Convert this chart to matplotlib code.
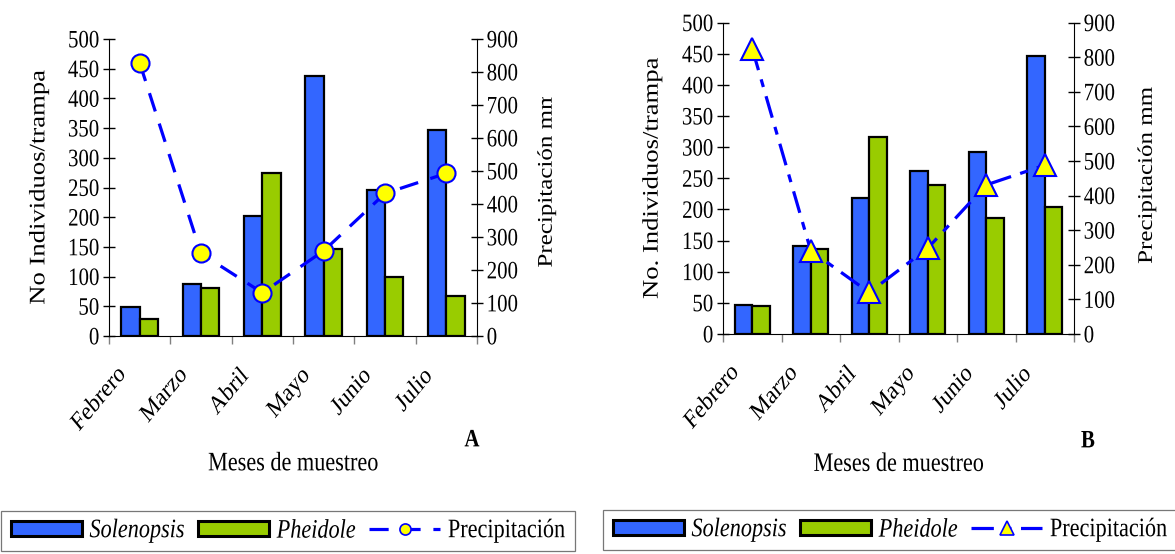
import matplotlib.pyplot as plt
import numpy as np
from matplotlib.transforms import Bbox, TransformedBbox, Affine2D
from matplotlib.patches import Patch
from matplotlib.lines import Line2D
from matplotlib.text import Text
from matplotlib import patheffects

plt.rcParams['font.family'] = ['Liberation Serif', 'DejaVu Serif']

# Data
months = ["Febrero", "Marzo", "Abril", "Mayo", "Junio", "Julio"]

solenopsis_a = [48, 88, 202, 437, 245, 346]
pheidole_a = [28, 81, 274, 146, 100, 67]
precip_a = [828, 250, 131, 258, 432, 493]

solenopsis_b = [47, 141, 219, 262, 293, 446]
pheidole_b = [45, 136, 316, 239, 187, 204]
precip_b = [825, 241, 120, 248, 431, 488]

BLUE = "#3366FF"
GREEN = "#99CC00"
LINE = "#0000FF"
YELLOW = "#FFFF00"

W, H = 1175, 554
fig = plt.figure(figsize=(W / 100, H / 100), dpi=100)


class Stretch(patheffects.AbstractPathEffect):
    # the original picture is squashed sideways, so text looks tall and narrow
    def __init__(self, sy):
        super().__init__()
        self.sy = sy

    def draw_path(self, renderer, gc, tpath, affine, rgbFace=None):
        ext = tpath.get_extents(affine)
        cx, cy = (ext.x0 + ext.x1) / 2, (ext.y0 + ext.y1) / 2
        st = Affine2D().translate(-cx, -cy).scale(1, self.sy).translate(cx, cy)
        renderer.draw_path(gc, tpath, affine + st, rgbFace)


def panel(rect, sol, phe, prec, marker, ms, dashes, left_label, left_lx, right_lxy, xlab_y, letter, letter_xy):
    ax = fig.add_axes(rect)
    x = np.arange(len(months)) + 0.5
    bw = 0.3
    ax.bar(x - bw / 2, sol, bw, color=BLUE, edgecolor="black", linewidth=1.6, zorder=2)
    ax.bar(x + bw / 2, phe, bw, color=GREEN, edgecolor="black", linewidth=1.6, zorder=2)
    ax.set_xlim(0, len(months))
    ax.set_ylim(0, 500)
    ax.set_yticks(np.arange(0, 501, 50))
    ax.set_xticks(np.arange(0, len(months) + 1))
    ax.set_xticklabels([])
    ax.set_xticks(x - 0.16, months, minor=True)
    ax.tick_params(axis="x", which="major", direction="out", length=5.5, width=1, color="#808080")
    ax.tick_params(axis="x", which="minor", length=0, pad=24, labelsize=15.5)
    for lbl in ax.get_xticklabels(minor=True):
        lbl.set_rotation(45)
        lbl.set_ha("right")
        lbl.set_va("top")
    ax.tick_params(axis="y", direction="inout", length=9, width=1, pad=2.5, labelsize=15)
    ax.spines["top"].set_visible(False)
    ax.spines["right"].set_visible(False)
    ax.set_ylabel(left_label, fontsize=16)
    ax.yaxis.set_label_coords(left_lx, 0.5)
    ax.set_xlabel("Meses de muestreo", fontsize=16)
    ax.xaxis.set_label_coords(0.5, xlab_y)

    ax2 = ax.twinx()
    ax2.set_ylim(0, 900)
    ax2.set_yticks(np.arange(0, 901, 100))
    ax2.tick_params(axis="y", direction="inout", length=9, width=1, pad=2.5, labelsize=15)
    ax2.spines["top"].set_visible(False)
    ax2.spines["left"].set_visible(False)
    ax2.spines["bottom"].set_visible(False)
    ax2.plot(x, prec, color=LINE, linewidth=2.3, dashes=dashes, marker=marker, ms=ms,
             markerfacecolor=YELLOW, markeredgecolor=LINE, markeredgewidth=1.5, zorder=3)
    rl = ax2.set_ylabel("Precipitación mm", fontsize=15)
    ax2.yaxis.set_label_coords(*right_lxy)
    fig.text(letter_xy[0] / W, 1 - letter_xy[1] / H, letter, fontsize=15, fontweight="bold",
             ha="center", va="center")
    return ax, ax2, rl


axA, axA2, rlA = panel([109 / W, 1 - 336 / H, 368 / W, 297 / H],
                       solenopsis_a, pheidole_a, precip_a, "o", 13, (6, 4),
                       "No Individuos/trampa", -0.162, (1.165, 0.529), -0.40, "A", (472, 440))
# the right-hand label of panel A is cut off at the top in the original
rlA.set_clip_box(TransformedBbox(Bbox([[0, 0], [0.5, 1 - 97 / H]]), fig.transFigure))
rlA.set_clip_on(True)

axB, axB2, rlB = panel([723 / W, 1 - 334 / H, 351 / W, 311.3 / H],
                       solenopsis_b, pheidole_b, precip_b, "^", 15.5, (7, 3, 2.5, 3),
                       "No. Individuos/trampa", -0.172, (1.182, 0.51), -0.39, "B", (1088, 441))


def legend(center, marker, ms, dashes):
    handles = [
        Patch(facecolor=BLUE, edgecolor="black", linewidth=2.2),
        Patch(facecolor=GREEN, edgecolor="black", linewidth=2.2),
        Line2D([0], [0], color=LINE, linewidth=2.3, dashes=dashes, marker=marker, ms=ms,
               markerfacecolor=YELLOW, markeredgecolor=LINE, markeredgewidth=1.2),
    ]
    leg = fig.legend(handles, ["Solenopsis", "Pheidole", "Precipitación"], ncol=3,
                     loc="center", bbox_to_anchor=(center[0] / W, 1 - center[1] / H),
                     fontsize=16, frameon=True, fancybox=False, edgecolor="#555555",
                     handlelength=3.2, handleheight=0.65, handletextpad=0.35,
                     columnspacing=0.6, borderpad=0.45, borderaxespad=0)
    leg.get_frame().set_linewidth(0.9)
    leg.get_texts()[0].set_style("italic")
    leg.get_texts()[1].set_style("italic")
    return leg


legend((288, 531), "o", 8, (6, 4))
legend((890, 530), "^", 10, (7, 3, 2.5, 3))

# make every text tall and narrow like the reference
fig.canvas.draw()
for t in fig.findobj(Text):
    if t.get_text():
        t.set_path_effects([Stretch(1.2)])

fig.savefig("out.png", dpi=100)
